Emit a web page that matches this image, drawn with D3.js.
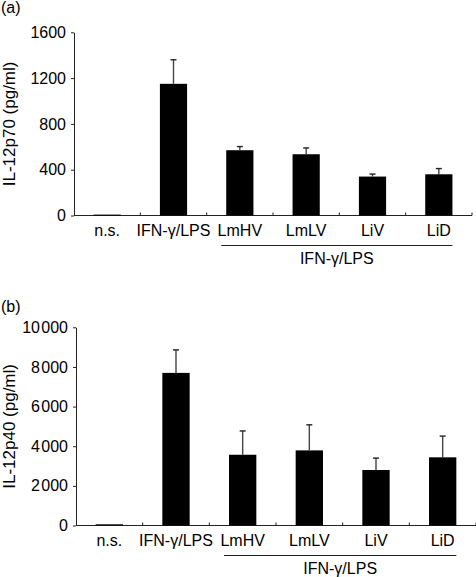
<!DOCTYPE html>
<html>
<head>
<meta charset="utf-8">
<script src="https://cdn.jsdelivr.net/npm/d3@7"></script>
<style>
  html, body { margin: 0; padding: 0; background: #fff; }
  svg { display: block; }
  text { font-family: "Liberation Sans", Arial, Helvetica, sans-serif; fill: #000; }
</style>
</head>
<body>
<svg id="chart" width="476" height="577"></svg>
<script>
// ---- data ----
const categories = ["n.s.", "IFN-\u03b3/LPS", "LmHV", "LmLV", "LiV", "LiD"];
const p70Values = [8, 1150, 570, 535, 340, 360];
const p70Errors = [0, 210, 32, 55, 22, 50];
const p70Ticks = [0, 400, 800, 1200, 1600];
const p40Values = [60, 7700, 3570, 3790, 2800, 3440];
const p40Errors = [0, 1160, 1200, 1290, 600, 1070];
const p40Ticks = [0, 2000, 4000, 6000, 8000, 10000];
const groupLabel = "IFN-\u03b3/LPS";
const groupedCategories = ["LmHV", "LmLV", "LiV", "LiD"];

const svg = d3.select("#chart");
const FS = "16px";

function fmt(v) {
  const s = String(v);
  if (s.length <= 3) return s;
  return s.slice(0, s.length - 3) + "\u200a" + s.slice(s.length - 3);
}

function panel(opts) {
  const g = svg.append("g");
  const x = d3.scaleBand().domain(categories)
    .range([opts.x0, opts.x1]).paddingInner(0.59).paddingOuter(0.295);
  const y = d3.scaleLinear().domain([0, opts.max]).range([opts.yBase, opts.yTop]);

  // panel letter
  g.append("text").attr("x", 1).attr("y", opts.letterY)
    .style("font-size", FS).text(opts.letter);

  // y axis
  const yAxis = d3.axisLeft(y).tickValues(opts.ticks).tickSizeInner(3).tickSizeOuter(0)
    .tickPadding(5).tickFormat(opts.format);
  const ya = g.append("g").attr("transform", `translate(${opts.x0},0)`).call(yAxis);
  ya.attr("font-size", null).attr("font-family", null);
  ya.selectAll("text").style("font-size", FS);
  ya.select(".domain").attr("stroke", "#222");
  ya.selectAll(".tick line").attr("stroke", "#222");

  // y title
  g.append("text")
    .attr("transform", `translate(${opts.titleX},${(opts.yBase + opts.yTop) / 2}) rotate(-90)`)
    .attr("text-anchor", "middle").style("font-size", "17px").text(opts.title);

  // x axis line
  g.append("line").attr("x1", opts.x0).attr("x2", opts.x1)
    .attr("y1", opts.yBase).attr("y2", opts.yBase).attr("stroke", "#222");
  // boundary ticks pointing up
  const bounds = d3.range(1, categories.length + 1).map(i => opts.x0 + i * x.step());
  g.selectAll(".bt").data(bounds).enter().append("line")
    .attr("x1", d => d).attr("x2", d => d)
    .attr("y1", opts.yBase).attr("y2", opts.yBase - 3).attr("stroke", "#222");

  // bars
  const vals = opts.values, errs = opts.errors;
  g.selectAll(".bar").data(categories).enter().append("rect")
    .attr("x", d => x(d)).attr("width", x.bandwidth())
    .attr("y", (d, i) => y(vals[i]))
    .attr("height", (d, i) => opts.yBase - y(vals[i]))
    .attr("fill", "#000");

  // error bars
  const eb = categories.map((c, i) => ({c, v: vals[i], e: errs[i]})).filter(d => d.e > 0);
  g.selectAll(".eb").data(eb).enter().append("line")
    .attr("x1", d => x(d.c) + x.bandwidth() / 2).attr("x2", d => x(d.c) + x.bandwidth() / 2)
    .attr("y1", d => y(d.v)).attr("y2", d => y(d.v + d.e))
    .attr("stroke", "#444").attr("stroke-width", 1.4);
  g.selectAll(".ec").data(eb).enter().append("line")
    .attr("x1", d => x(d.c) + x.bandwidth() / 2 - 3).attr("x2", d => x(d.c) + x.bandwidth() / 2 + 3)
    .attr("y1", d => y(d.v + d.e)).attr("y2", d => y(d.v + d.e))
    .attr("stroke", "#222").attr("stroke-width", 1.4);

  // category labels
  g.selectAll(".cl").data(categories).enter().append("text")
    .attr("x", d => x(d) + x.bandwidth() / 2).attr("y", opts.yBase + 20)
    .attr("text-anchor", "middle").style("font-size", FS).text(d => d);

  // group bracket
  const gx0 = x(groupedCategories[0]) - 5;
  const last = groupedCategories[groupedCategories.length - 1];
  const gx1 = x(last) + x.bandwidth();
  g.append("line").attr("x1", gx0).attr("x2", gx1)
    .attr("y1", opts.yBase + 30).attr("y2", opts.yBase + 30).attr("stroke", "#222");
  g.append("text").attr("x", (gx0 + gx1) / 2).attr("y", opts.yBase + 48.5)
    .attr("text-anchor", "middle").style("font-size", FS).text(groupLabel);
}

panel({
  letter: "(a)", letterY: 13, x0: 74, x1: 472, yBase: 215.5, yTop: 32.3, max: 1600,
  ticks: p70Ticks, values: p70Values, errors: p70Errors,
  title: "IL-12p70 (pg/ml)", titleX: 15, format: d => String(d)
});
panel({
  letter: "(b)", letterY: 312, x0: 76, x1: 476, yBase: 525.5, yTop: 327.3, max: 10000,
  ticks: p40Ticks, values: p40Values, errors: p40Errors,
  title: "IL-12p40 (pg/ml)", titleX: 15, format: fmt
});
</script>
</body>
</html>
